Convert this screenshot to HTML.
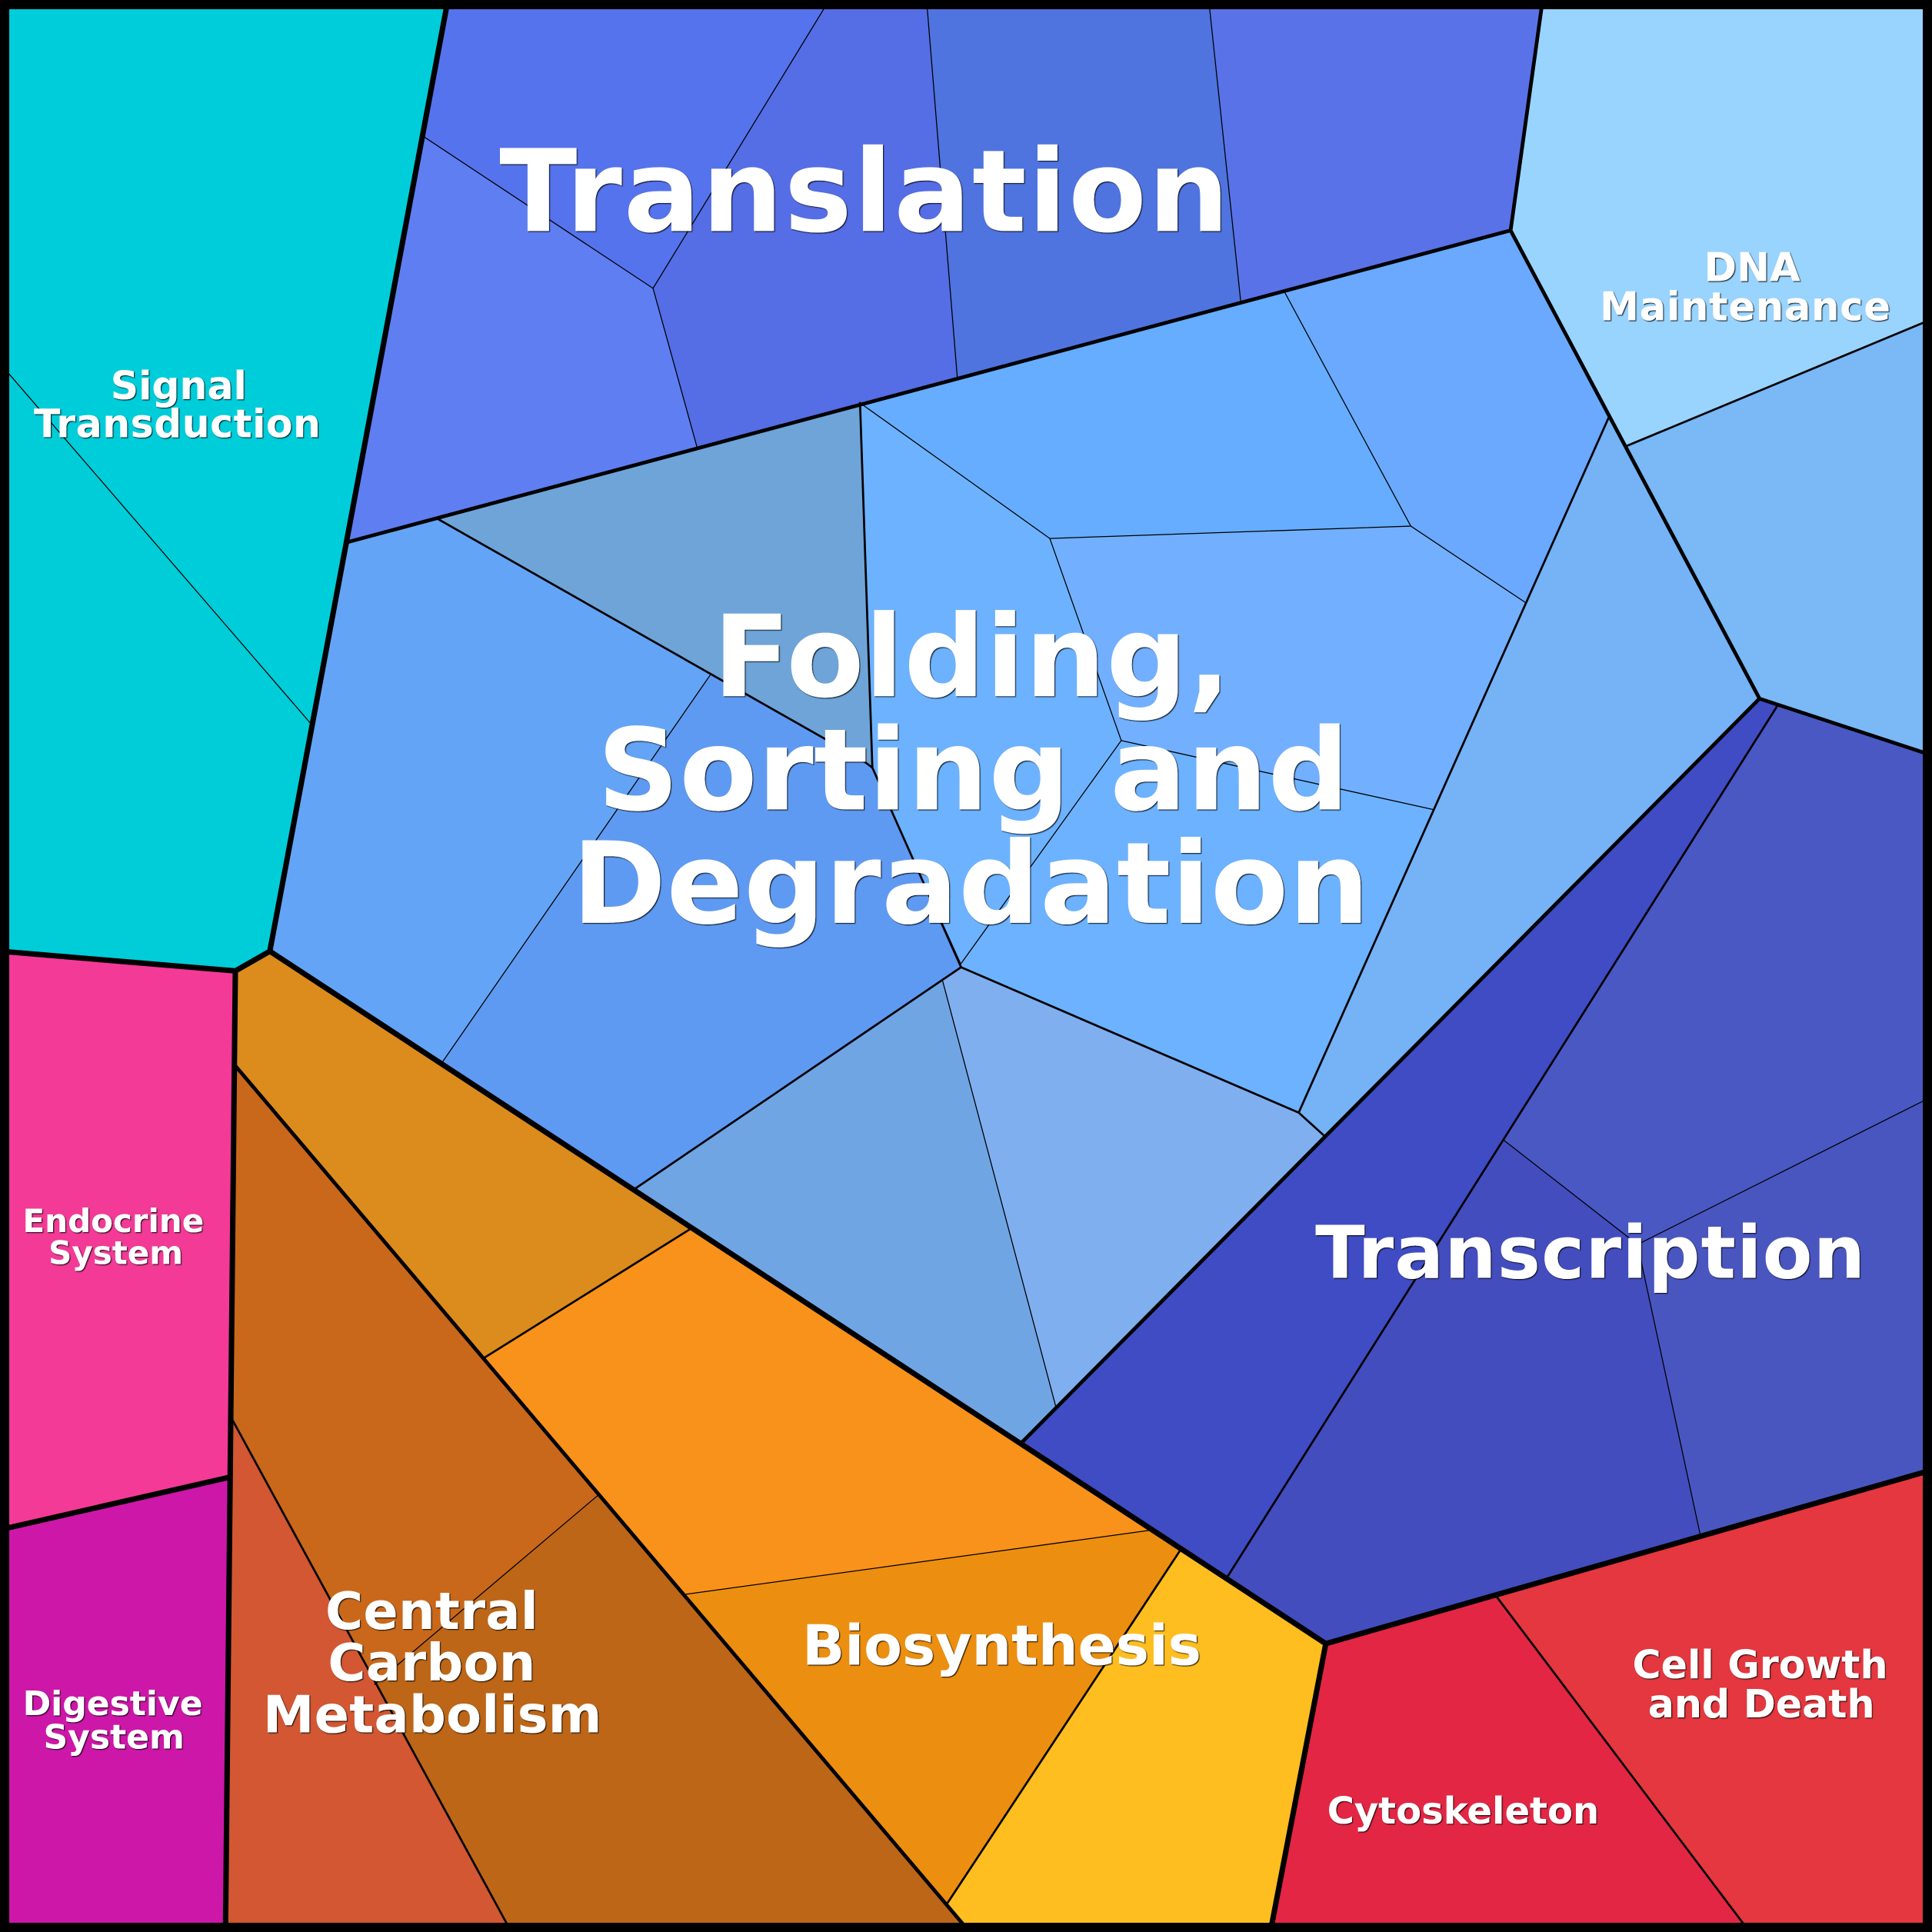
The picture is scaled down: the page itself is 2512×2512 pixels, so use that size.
<!DOCTYPE html>
<html>
<head>
<meta charset="utf-8">
<style>
html,body{margin:0;padding:0;background:#000;width:2512px;height:2512px;overflow:hidden}
svg{display:block}
text{font-family:"DejaVu Sans","Liberation Sans",sans-serif;font-weight:bold;fill:#fff;text-anchor:middle}
.l0,.l1,.l2,.l3{fill:none;stroke:#000;stroke-linejoin:round;stroke-linecap:round}
.l0{stroke-width:4.4}
.l1{stroke-width:3}
.l2{stroke-width:1.7}
.l3{stroke-width:.8}
</style>
</head>
<body>
<svg xmlns="http://www.w3.org/2000/svg" width="2512" height="2512" viewBox="0 0 1568 1568">
<defs>
<filter id="s" x="-5%" y="-5%" width="110%" height="110%" primitiveUnits="userSpaceOnUse">
<feDropShadow dx="0.7" dy="0.7" stdDeviation="0.25" flood-color="#000" flood-opacity="0.85"/>
</filter>
</defs>
<rect width="1568" height="1568" fill="#000"/>
<!-- Signal -->
<polygon fill="#00cdda" points="0,0 363.5,0 252,587 0,295"/>
<polygon fill="#00cdd8" points="0,295 252,587 219,772 191,788 0,772"/>
<!-- Translation -->
<polygon fill="#5f7ef2" points="344,111 530,234 566,364 282,440"/>
<polygon fill="#5573ec" points="363.5,0 673,0 530,234 344,111"/>
<polygon fill="#556de5" points="673,0 752,0 777,307 566,364 530,234"/>
<polygon fill="#4f74df" points="752,0 981,0 1007,245 777,307"/>
<polygon fill="#5a72e8" points="981,0 1252,0 1226,187 1007,245"/>
<!-- Folding -->
<polygon fill="#64a4f6" points="282,440 355,421 577,547 359,862 219,772"/>
<polygon fill="#5f9af2" points="577,547 700,617 708,623 780,785 515,965 359,862"/>
<polygon fill="#6ea4d8" points="355,421 698,327 708,623 700,617"/>
<polygon fill="#6db2ff" points="698,327 852,437 910,601 780,782 708,623"/>
<polygon fill="#66adff" points="698,327 1042,236 1145,427 852,437"/>
<polygon fill="#6aa9fd" points="1042,236 1226,187 1306,338 1238,489 1145,427"/>
<polygon fill="#72b0ff" points="852,437 1145,427 1238,489 1163,657 910,601"/>
<polygon fill="#6db2ff" points="910,601 1163,657 1054,903 780,785 780,782"/>
<polygon fill="#76b2f6" points="1306,338 1428,567 1075,922 1054,903"/>
<polygon fill="#80aff0" points="780,785 1054,903 1075,922 857,1142 765,796"/>
<polygon fill="#70a5e4" points="765,796 857,1142 829,1171 515,965"/>
<!-- DNA -->
<polygon fill="#99d4ff" points="1252,0 1568,0 1568,259 1320,362 1226,187"/>
<polygon fill="#7ab8f6" points="1320,362 1568,259 1568,613 1443,572 1428,567"/>
<!-- Transcription -->
<polygon fill="#3f4cc4" points="1428,567 1443,572 996,1280 958,1258 829,1171"/>
<polygon fill="#4a58c4" points="1443,572 1568,613 1568,890 1329,1010 1220,925"/>
<polygon fill="#4a56bf" points="1329,1010 1568,890 1568,1193 1380,1246"/>
<polygon fill="#434dbe" points="1220,925 1329,1010 1380,1246 1076,1334 996,1280"/>
<!-- Cell -->
<polygon fill="#e32644" points="1076,1334 1214,1295 1420,1568 1031,1568"/>
<polygon fill="#e4373f" points="1214,1295 1568,1193 1568,1568 1420,1568"/>
<!-- Biosynthesis -->
<polygon fill="#ffbe20" points="958,1258 1076,1334 1031,1568 787,1568 768,1546"/>
<polygon fill="#ec8f10" points="556,1294 933,1242 958,1258 768,1546"/>
<polygon fill="#f9921a" points="393,1102 561,997 933,1242 556,1294"/>
<polygon fill="#db8c1d" points="191,788 219,772 561,997 393,1102 191,865"/>
<!-- Carbon -->
<polygon fill="#c9681a" points="191,865 486,1213 304,1367 189,1153"/>
<polygon fill="#bd6618" points="304,1367 486,1213 787,1568 415,1568"/>
<polygon fill="#d25732" points="189,1153 415,1568 184,1568"/>
<!-- Endocrine / Digestive -->
<polygon fill="#f23a96" points="0,772 191,788 186,1199 0,1241.5"/>
<polygon fill="#cd17a9" points="0,1241.5 186,1199 183,1568 0,1568"/>

<!-- thin -->
<g class="l3">
<path d="M0,295 L252,587"/>
<path d="M344,111 L530,234 L673,0"/>
<path d="M530,234 L566,364"/>
<path d="M752,0 L777,307"/>
<path d="M981,0 L1007,245"/>
<path d="M698,327 L852,437 L1145,427 L1042,236"/>
<path d="M852,437 L910,601 L1163,657"/>
<path d="M910,601 L780,782"/>
<path d="M1145,427 L1238,489"/>
<path d="M765,796 L857,1142"/>
<path d="M577,547 L359,862"/>
<path d="M486,1213 L304,1367"/>
<path d="M556,1294 L933,1242"/>
<path d="M1220,925 L1329,1010 L1568,890"/>
<path d="M1329,1010 L1380,1246"/>
</g>
<!-- medium -->
<g class="l2">
<path d="M355,421 L700,617 L708,623 L780,785"/>
<path d="M698,327 L708,623"/>
<path d="M780,785 L1054,903 L1075,922"/>
<path d="M1054,903 L1306,338"/>
<path d="M780,785 L515,965"/>
<path d="M1320,362 L1568,259"/>
<path d="M1443,572 L996,1280"/>
<path d="M393,1102 L561,997"/>
<path d="M958,1258 L768,1546"/>
<path d="M189,1153 L415,1568"/>
<path d="M1214,1295 L1420,1568"/>
</g>
<!-- thick -->
<g class="l1">
<path d="M282,440 L1226,187 L1252,0"/>
<path d="M1226,187 L1428,567 L829,1171"/>
<path d="M1428,567 L1568,613"/>
<path d="M191,865 L787,1568"/>
</g>
<g class="l0">
<path d="M363.5,0 L219,772 L191,788 L0,772"/>
<path d="M219,772 L1076,1334 L1031,1568"/>
<path d="M1076,1334 L1568,1193"/>
<path d="M191,788 L183,1568"/>
<path d="M0,1241.5 L186,1199"/>
</g>
<rect x="3.75" y="3.75" width="1560.5" height="1560.5" fill="none" stroke="#000" stroke-width="7.5"/>

<g filter="url(#s)">
<text x="702" y="187.5" font-size="92.5" letter-spacing="1.1">Translation</text>
<text x="789" y="565" font-size="92" letter-spacing=".4">Folding,</text>
<text x="790" y="657" font-size="92" letter-spacing=".3">Sorting and</text>
<text x="788" y="749" font-size="92" letter-spacing=".3">Degradation</text>
<text x="1291" y="1037" font-size="59" letter-spacing=".75">Transcription</text>
<text x="145" y="324" font-size="31.5">Signal</text>
<text x="144" y="355" font-size="31.5" letter-spacing=".3">Transduction</text>
<text x="1422" y="228" font-size="32">DNA</text>
<text x="1416.5" y="260" font-size="32" letter-spacing=".4">Maintenance</text>
<text x="92" y="1000" font-size="26.2">Endocrine</text>
<text x="94" y="1026" font-size="26.2">System</text>
<text x="91.5" y="1392" font-size="27.5">Digestive</text>
<text x="92.5" y="1419" font-size="27.5">System</text>
<text x="350.5" y="1322" font-size="41.7" letter-spacing=".2">Central</text>
<text x="350.5" y="1364" font-size="41.7" letter-spacing=".2">Carbon</text>
<text x="351" y="1406" font-size="41.7" letter-spacing=".2">Metabolism</text>
<text x="813" y="1351" font-size="45.3">Biosynthesis</text>
<text x="1428.5" y="1362" font-size="31.6">Cell Growth</text>
<text x="1429.5" y="1394" font-size="31.6">and Death</text>
<text x="1187.5" y="1480" font-size="30">Cytoskeleton</text>
</g>
</svg>
</body>
</html>
